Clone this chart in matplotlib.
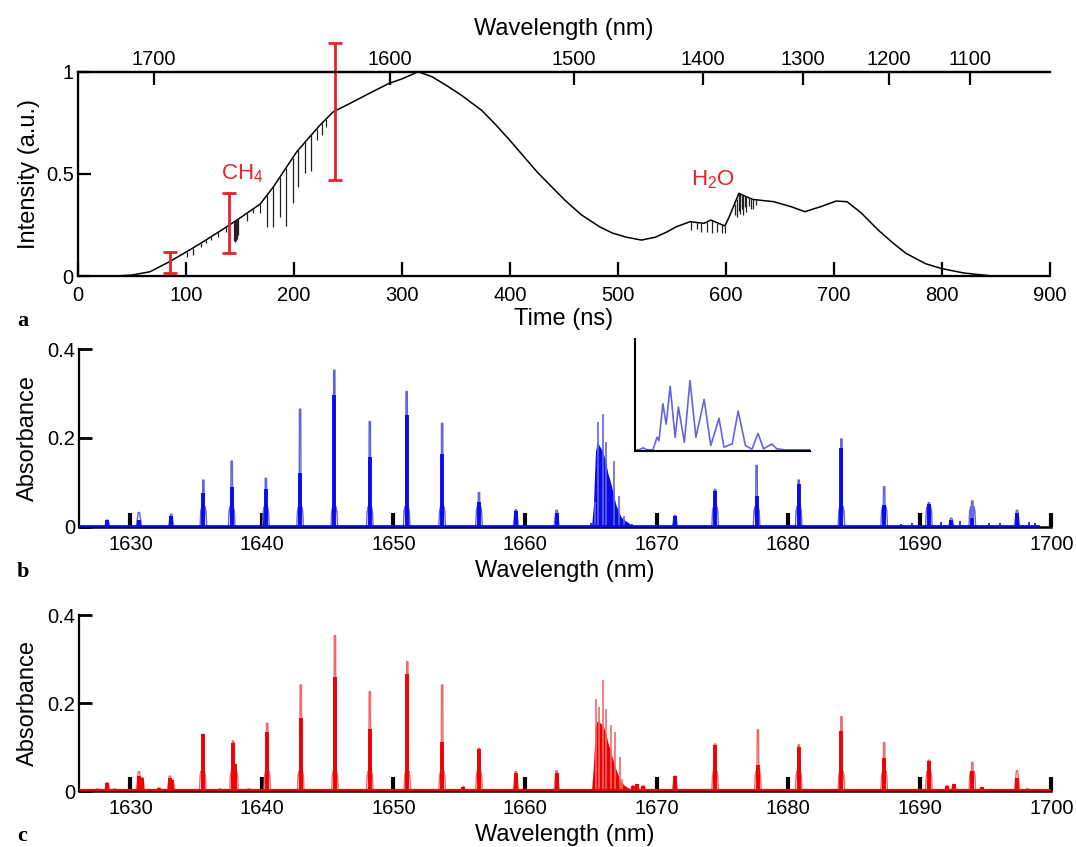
import numpy as np
import matplotlib
matplotlib.use('Agg')
import matplotlib.pyplot as plt

plt.rcParams['font.family'] = ['Liberation Sans', 'DejaVu Sans']
plt.rcParams['mathtext.default'] = 'regular'

# ---------------- Panel a data ----------------
time_ticks = [0, 100, 200, 300, 400, 500, 600, 700, 800, 900]
intensity_ticks = [0, 0.5, 1]
intensity_ticklabels = ['0', '0.5', '1']
wl_top_labels = ['1700', '1600', '1500', '1400', '1300', '1200', '1100']
wl_top_times = [70.3, 289.0, 459.4, 578.9, 671.0, 750.8, 825.6]

env_t = [35, 50, 66.7, 84.6, 100.6, 116, 137.7, 151.6, 168.6, 181, 193.3, 202.5,
         213.3, 224.1, 236.4, 251.9, 270, 288, 300, 315, 328, 342, 355, 374, 386,
         399.6, 412, 425, 438, 450.7, 466, 483, 495, 508, 521.7, 534.5, 545, 553.9,
         566.8, 579.6, 586, 599, 603, 612, 618, 624.8, 644, 660, 673, 688, 702, 712,
         725, 741, 755, 766.7, 785, 799, 820, 847]
env_I = [0.0, 0.005, 0.021, 0.07, 0.119, 0.168, 0.241, 0.29, 0.352, 0.437, 0.535,
         0.608, 0.674, 0.739, 0.804, 0.845, 0.895, 0.943, 0.965, 1.0, 0.975, 0.93,
         0.885, 0.81, 0.745, 0.666, 0.59, 0.51, 0.44, 0.372, 0.3, 0.241, 0.21, 0.19,
         0.176, 0.19, 0.215, 0.241, 0.266, 0.258, 0.274, 0.245, 0.29, 0.405, 0.39,
         0.375, 0.364, 0.34, 0.315, 0.34, 0.367, 0.364, 0.31, 0.225, 0.16, 0.111,
         0.06, 0.0375, 0.015, 0.0]

ch4_dip_t = [100.6, 106.8, 113.6, 118.5, 123.1, 129.9, 136.7, 144.6, 145.3, 146.0,
             146.7, 147.4, 148.1, 156.3, 162.0, 168.6, 174.8, 181.0, 187.2, 192.7,
             198.8, 204.1, 210.2, 215.8, 221.0, 225.6, 230.0]
ch4_dip_I = [0.094, 0.103, 0.143, 0.16, 0.176, 0.192, 0.217, 0.17, 0.168, 0.172,
             0.175, 0.18, 0.2, 0.27, 0.31, 0.307, 0.241, 0.241, 0.29, 0.245,
             0.356, 0.437, 0.503, 0.516, 0.666, 0.69, 0.73]
h2o_dip_t = [568, 573, 577, 582, 586.7, 591.4, 596, 599, 608, 610, 612, 613, 615,
             616, 618, 619, 621, 623, 625, 628]
h2o_dip_I = [0.225, 0.23, 0.217, 0.217, 0.209, 0.215, 0.212, 0.21, 0.3, 0.29, 0.32,
             0.306, 0.33, 0.3, 0.34, 0.315, 0.345, 0.33, 0.33, 0.35]

err_t = [85, 140, 238]
err_lo = [0.015, 0.111, 0.47]
err_hi = [0.12, 0.405, 1.139]

# ---------------- Panel b data ----------------
wl_ticks = [1630, 1640, 1650, 1660, 1670, 1680, 1690, 1700]
abs_ticks = [0, 0.2, 0.4]
abs_ticklabels = ['0', '0.2', '0.4']

b_wl = [1628.25, 1630.65, 1633.1, 1635.55, 1637.7, 1640.3, 1642.9, 1645.5, 1648.2,
        1651.0, 1653.7, 1656.5, 1659.3, 1662.4, 1671.4, 1674.45, 1677.6, 1680.8,
        1684.05, 1687.3, 1690.7, 1692.4, 1694.0, 1697.4]
b_peak = [0.015, 0.032, 0.028, 0.105, 0.148, 0.109, 0.265, 0.353, 0.237, 0.305,
          0.233, 0.077, 0.038, 0.037, 0.025, 0.084, 0.138, 0.105, 0.198, 0.09,
          0.054, 0.019, 0.058, 0.037]
b_core = [0.015, 0.015, 0.025, 0.077, 0.09, 0.086, 0.12, 0.297, 0.156, 0.252,
          0.165, 0.056, 0.035, 0.03, 0.025, 0.08, 0.07, 0.097, 0.177, 0.048,
          0.05, 0.015, 0.02, 0.03]
b_small_wl = [1665.0, 1668.1, 1688.6, 1689.4, 1691.6, 1693.1, 1695.3, 1696.1, 1698.3, 1698.8]
b_small_h = [0.008, 0.007, 0.006, 0.008, 0.01, 0.012, 0.008, 0.009, 0.01, 0.008]

b_q_wl = [1665.05, 1665.2, 1665.35, 1665.5, 1665.7, 1665.9, 1666.1, 1666.3, 1666.5,
          1666.7, 1666.9, 1667.1, 1667.3, 1667.6, 1667.9, 1668.2]
b_q_fill = [0.0, 0.05, 0.17, 0.19, 0.18, 0.17, 0.15, 0.12, 0.10, 0.075, 0.05,
            0.035, 0.022, 0.014, 0.008, 0.0]
b_q_spike_wl = [1665.3, 1665.55, 1665.95, 1666.15, 1666.76, 1667.16, 1667.5]
b_q_spike_h = [0.055, 0.237, 0.254, 0.19, 0.148, 0.07, 0.025]

inset_x = [0, 0.0245, 0.047, 0.070, 0.1038, 0.1264, 0.1377, 0.1604, 0.1792, 0.2019,
           0.2302, 0.2491, 0.283, 0.3151, 0.3491, 0.3962, 0.434, 0.4811, 0.5094,
           0.5566, 0.5906, 0.6321, 0.6698, 0.7038, 0.7358, 0.783, 0.8113, 0.8585, 1.0]
inset_y = [0.006, 0.006, 0.024, 0.006, 0.006, 0.118, 0.088, 0.418, 0.235, 0.574,
           0.118, 0.388, 0.074, 0.624, 0.118, 0.456, 0.044, 0.288, 0.03, 0.059,
           0.353, 0.044, 0.012, 0.153, 0.015, 0.059, 0.015, 0.006, 0.006]

# ---------------- Panel c data ----------------
c_wl = [1627.5, 1628.25, 1628.8, 1630.65, 1630.9, 1632.2, 1633.0, 1633.2, 1635.5,
        1636.8, 1637.8, 1637.95, 1639.0, 1640.4, 1642.95, 1645.55, 1648.2, 1651.05,
        1653.7, 1655.3, 1656.5, 1659.3, 1662.4, 1668.2, 1668.5, 1669.0, 1671.4,
        1674.45, 1677.7, 1680.8, 1684.05, 1687.3, 1690.7, 1692.1, 1692.6, 1694.0,
        1694.7, 1697.4, 1698.2]
c_peak = [0.005, 0.019, 0.005, 0.044, 0.03, 0.007, 0.034, 0.025, 0.129, 0.005, 0.114,
          0.061, 0.005, 0.154, 0.241, 0.353, 0.226, 0.294, 0.241, 0.01, 0.097, 0.044,
          0.046, 0.012, 0.015, 0.012, 0.034, 0.107, 0.139, 0.105, 0.169, 0.11, 0.07,
          0.012, 0.015, 0.065, 0.008, 0.046, 0.005]
c_core = [0.005, 0.019, 0.005, 0.035, 0.03, 0.007, 0.03, 0.025, 0.129, 0.005, 0.11,
          0.061, 0.005, 0.135, 0.165, 0.258, 0.14, 0.267, 0.112, 0.01, 0.095, 0.042,
          0.04, 0.012, 0.015, 0.012, 0.034, 0.105, 0.06, 0.1, 0.136, 0.076, 0.068,
          0.012, 0.015, 0.046, 0.008, 0.03, 0.005]
c_q_wl = [1665.05, 1665.2, 1665.35, 1665.5, 1665.7, 1665.9, 1666.1, 1666.3, 1666.5,
          1666.7, 1666.9, 1667.1, 1667.3, 1667.6, 1667.9, 1668.2]
c_q_fill = [0.0, 0.06, 0.15, 0.16, 0.155, 0.15, 0.135, 0.11, 0.09, 0.07, 0.05,
            0.035, 0.02, 0.012, 0.006, 0.0]
c_q_spike_wl = [1665.4, 1665.6, 1665.95, 1666.15, 1666.5, 1666.8, 1667.2, 1667.4]
c_q_spike_h = [0.21, 0.19, 0.253, 0.187, 0.149, 0.133, 0.078, 0.027]

RED = '#e8202a'
BLUE_D = '#0a0af0'
BLUE_L = '#6464e0'
RED_D = '#f00000'
RED_L = '#f06a6a'

fig = plt.figure(figsize=(10.76, 8.47), dpi=100)

TICK_FS = 14.5
LAB_FS = 17

# ---------------- Panel a ----------------
axa = fig.add_axes([0.0725, 0.6741, 0.9033, 0.2412])
axa.plot(env_t, env_I, color='black', lw=1.1, zorder=3)
dip_top = np.interp(ch4_dip_t, env_t, env_I)
axa.vlines(ch4_dip_t, ch4_dip_I, dip_top, color='#222222', lw=0.9, zorder=3)
dip_top2 = np.interp(h2o_dip_t, env_t, env_I)
axa.vlines(h2o_dip_t, h2o_dip_I, dip_top2, color='#222222', lw=0.9, zorder=3)

lo = np.array(err_lo)
hi = np.array(err_hi)
cont = axa.errorbar(err_t, (lo + hi) / 2, yerr=(hi - lo) / 2, fmt='none',
                    ecolor=RED, elinewidth=2, capsize=5, capthick=2, zorder=4)
for art in list(cont.lines[1]) + list(cont.lines[2]):
    art.set_clip_on(False)

axa.text(152, 0.50, 'CH$_4$', color=RED, fontsize=16, ha='center', va='center')
axa.text(588, 0.47, 'H$_2$O', color=RED, fontsize=16, ha='center', va='center')

axa.set_xlim(0, 900)
axa.set_ylim(0, 1)
axa.set_xticks(time_ticks)
axa.set_yticks(intensity_ticks)
axa.set_yticklabels(intensity_ticklabels)
axa.spines['right'].set_visible(False)
for s in ['left', 'bottom', 'top']:
    axa.spines[s].set_linewidth(1.6)
axa.tick_params(axis='x', direction='in', length=10, width=1.6, labelsize=TICK_FS, pad=7)
axa.tick_params(axis='y', direction='in', length=9, width=1.6, labelsize=TICK_FS, pad=3)
axa.set_xlabel('Time (ns)', fontsize=LAB_FS, labelpad=2)
axa.set_ylabel('Intensity (a.u.)', fontsize=LAB_FS, labelpad=4)

axt = axa.twiny()
axt.set_xlim(0, 900)
axt.set_xticks(wl_top_times)
axt.set_xticklabels(wl_top_labels)
axt.spines['right'].set_visible(False)
axt.spines['top'].set_linewidth(1.6)
axt.tick_params(axis='x', direction='in', length=9, width=1.6, labelsize=TICK_FS, pad=2)
axt.set_xlabel('Wavelength (nm)', fontsize=LAB_FS, labelpad=11)


def draw_spectrum(ax, wl, peak, core, c_light, c_dark):
    for w, p, c in zip(wl, peak, core):
        if p > 0.05:
            loop = 0.045
            dx = np.array([-0.25, -0.2, -0.12, -0.07, -0.05, 0.05, 0.07, 0.12, 0.2, 0.25])
            dy = np.array([0, 0.035, loop, 0.02, p, p, 0.02, loop, 0.035, 0])
        else:
            dx = np.array([-0.2, -0.05, 0.05, 0.2])
            dy = np.array([0, p, p, 0])
        ax.plot(w + dx, dy, color=c_light, lw=1.0, zorder=2)
    ax.vlines(wl, 0, core, color=c_dark, lw=2.8, zorder=2.2)


def setup_spec_axes(ax):
    ax.set_xlim(1626.1, 1700)
    ax.set_ylim(0, 0.4)
    ax.set_xticks(wl_ticks)
    ax.set_yticks(abs_ticks)
    ax.set_yticklabels(abs_ticklabels)
    ax.spines['right'].set_visible(False)
    ax.spines['top'].set_visible(False)
    ax.spines['left'].set_linewidth(1.6)
    ax.spines['bottom'].set_linewidth(1.8)
    ax.tick_params(axis='x', direction='in', length=10, width=3, labelsize=TICK_FS, pad=6)
    ax.tick_params(axis='y', direction='in', length=9, width=2, labelsize=TICK_FS, pad=3)
    ax.set_xlabel('Wavelength (nm)', fontsize=LAB_FS, labelpad=4)
    ax.set_ylabel('Absorbance', fontsize=LAB_FS, labelpad=6)


# ---------------- Panel b ----------------
axb = fig.add_axes([0.0735, 0.3782, 0.9035, 0.2094])
axb.fill_between(b_q_wl, 0, b_q_fill, color=BLUE_D, lw=0, zorder=2)
axb.vlines(b_q_spike_wl, 0, b_q_spike_h, color=BLUE_L, lw=1.2, zorder=2.1)
draw_spectrum(axb, b_wl, b_peak, b_core, BLUE_L, BLUE_D)
axb.vlines(b_small_wl, 0, b_small_h, color=BLUE_D, lw=1.2, zorder=2)
axb.plot([1626.1, 1699.0], [0.002, 0.002], color=BLUE_D, lw=2.0, zorder=2.6)
setup_spec_axes(axb)

axi = fig.add_axes([0.590, 0.4681, 0.1626, 0.1322])
axi.plot(inset_x, inset_y, color=BLUE_L, lw=1.2)
axi.set_xlim(0, 1)
axi.set_ylim(0, 1)
axi.set_xticks([])
axi.set_yticks([])
axi.spines['right'].set_visible(False)
axi.spines['top'].set_visible(False)
axi.spines['left'].set_linewidth(1.5)
axi.spines['bottom'].set_linewidth(1.5)
axi.patch.set_alpha(0)

# ---------------- Panel c ----------------
axc = fig.add_axes([0.0735, 0.0661, 0.9035, 0.2078])
axc.fill_between(c_q_wl, 0, c_q_fill, color=RED_D, lw=0, zorder=2)
axc.vlines(c_q_spike_wl, 0, c_q_spike_h, color=RED_L, lw=1.2, zorder=2.1)
draw_spectrum(axc, c_wl, c_peak, c_core, RED_L, RED_D)
axc.plot([1626.1, 1700.0], [0.002, 0.002], color=RED_D, lw=1.6, zorder=2.6)
setup_spec_axes(axc)

# panel letters
for lab, y in [('a', 1 - 321 / 847), ('b', 1 - 572 / 847), ('c', 1 - 836 / 847)]:
    fig.text(17 / 1076, y, lab, fontsize=16, fontweight='bold',
             family=['Liberation Serif', 'DejaVu Serif'], ha='left', va='center')

fig.savefig('out.png', dpi=100)
